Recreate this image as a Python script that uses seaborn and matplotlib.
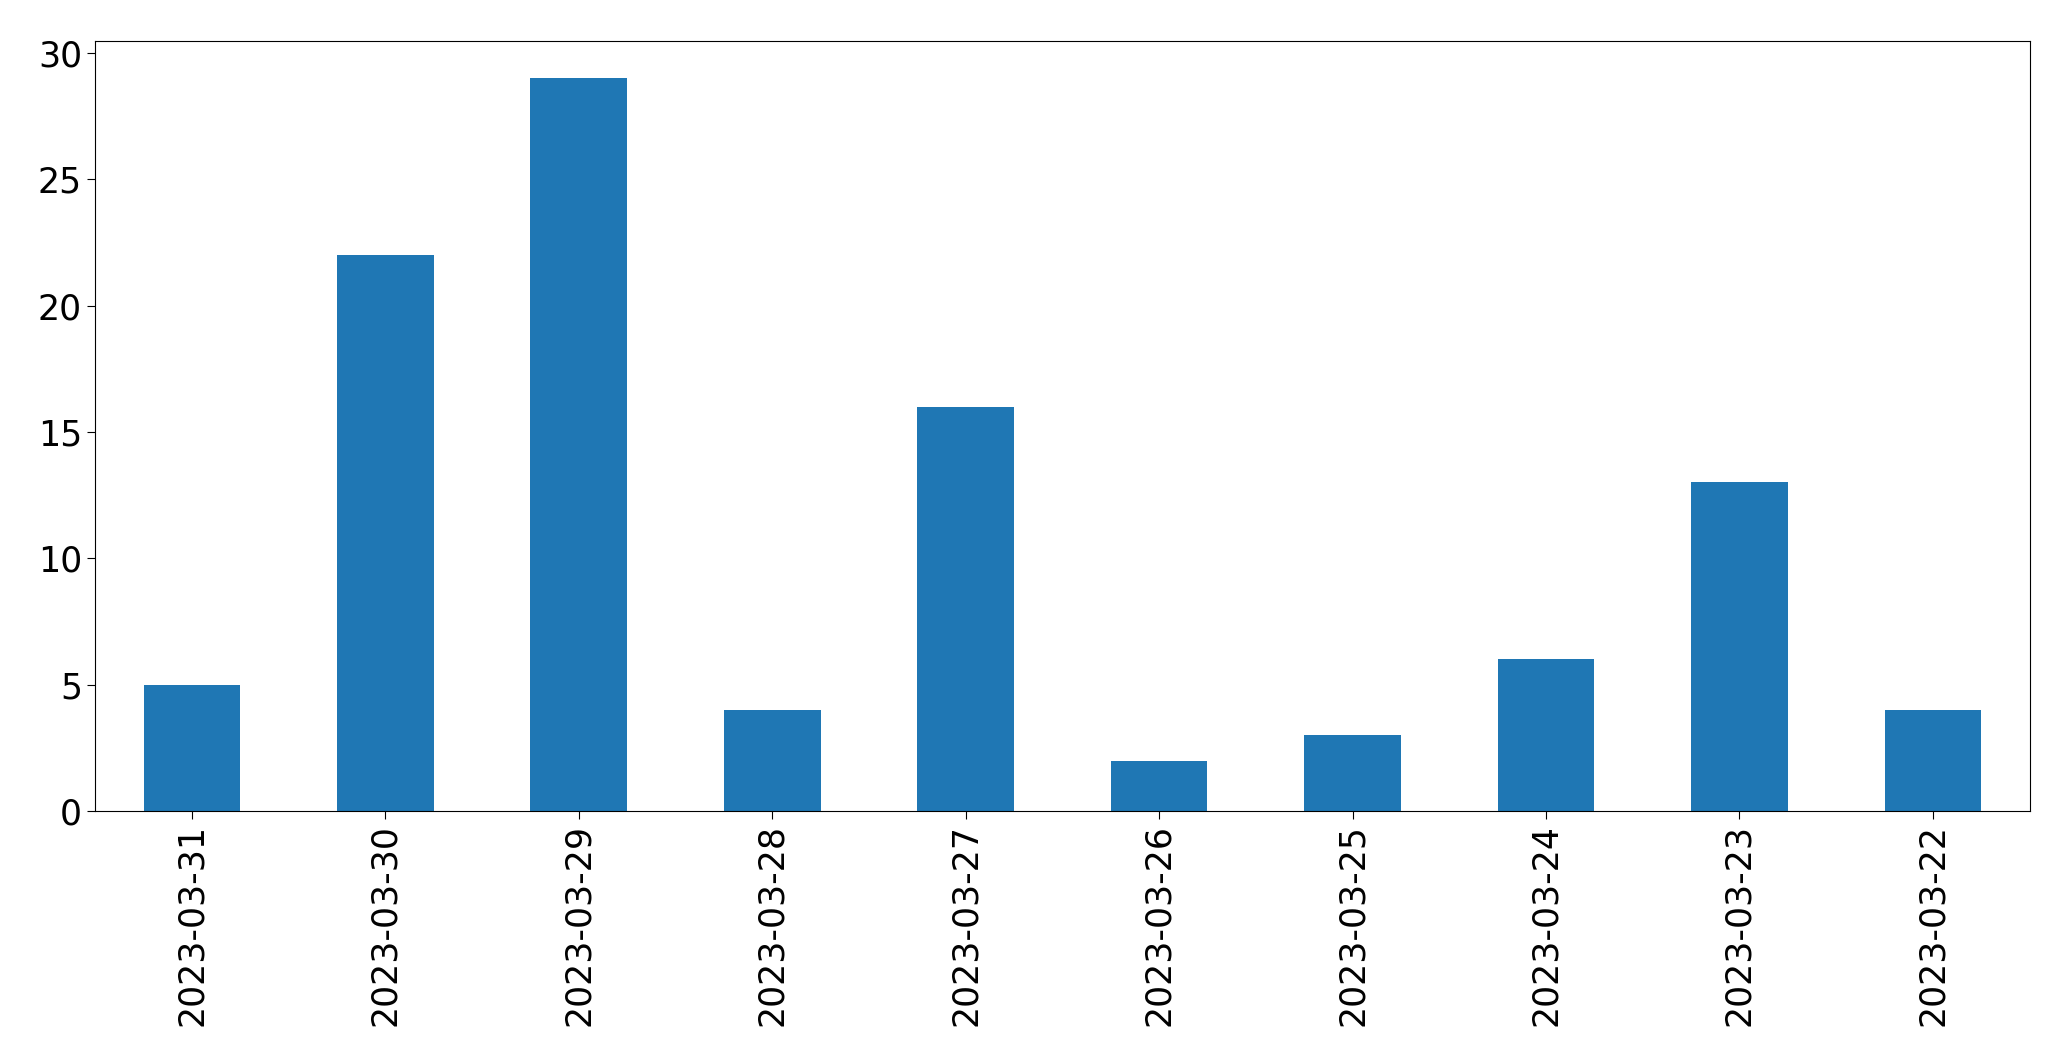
import matplotlib
matplotlib.use("Agg")
import matplotlib.pyplot as plt
import pandas as pd
import seaborn as sns

# Data
dates = ["2023-03-31", "2023-03-30", "2023-03-29", "2023-03-28", "2023-03-27",
         "2023-03-26", "2023-03-25", "2023-03-24", "2023-03-23", "2023-03-22"]
counts = [5, 22, 29, 4, 16, 2, 3, 6, 13, 4]

df = pd.DataFrame({"date": dates, "count": counts})

fig, ax = plt.subplots(figsize=(20.71, 10.63), dpi=100)
sns.barplot(data=df, x="date", y="count", order=dates, color="#1f77b4",
            saturation=1, width=0.5, ax=ax)
ax.set(xlabel="", ylabel="", xlim=(-0.5, len(dates) - 0.5), ylim=(0, max(counts) * 1.05))
ax.tick_params(axis="both", labelsize=25, length=6, color="black")
ax.tick_params(axis="x", labelrotation=90)
for s in ax.spines.values():
    s.set_visible(True)
    s.set_color("black")

plt.subplots_adjust(left=0.046, right=0.98, top=0.961, bottom=0.237)
plt.savefig("out.png", dpi=100)
